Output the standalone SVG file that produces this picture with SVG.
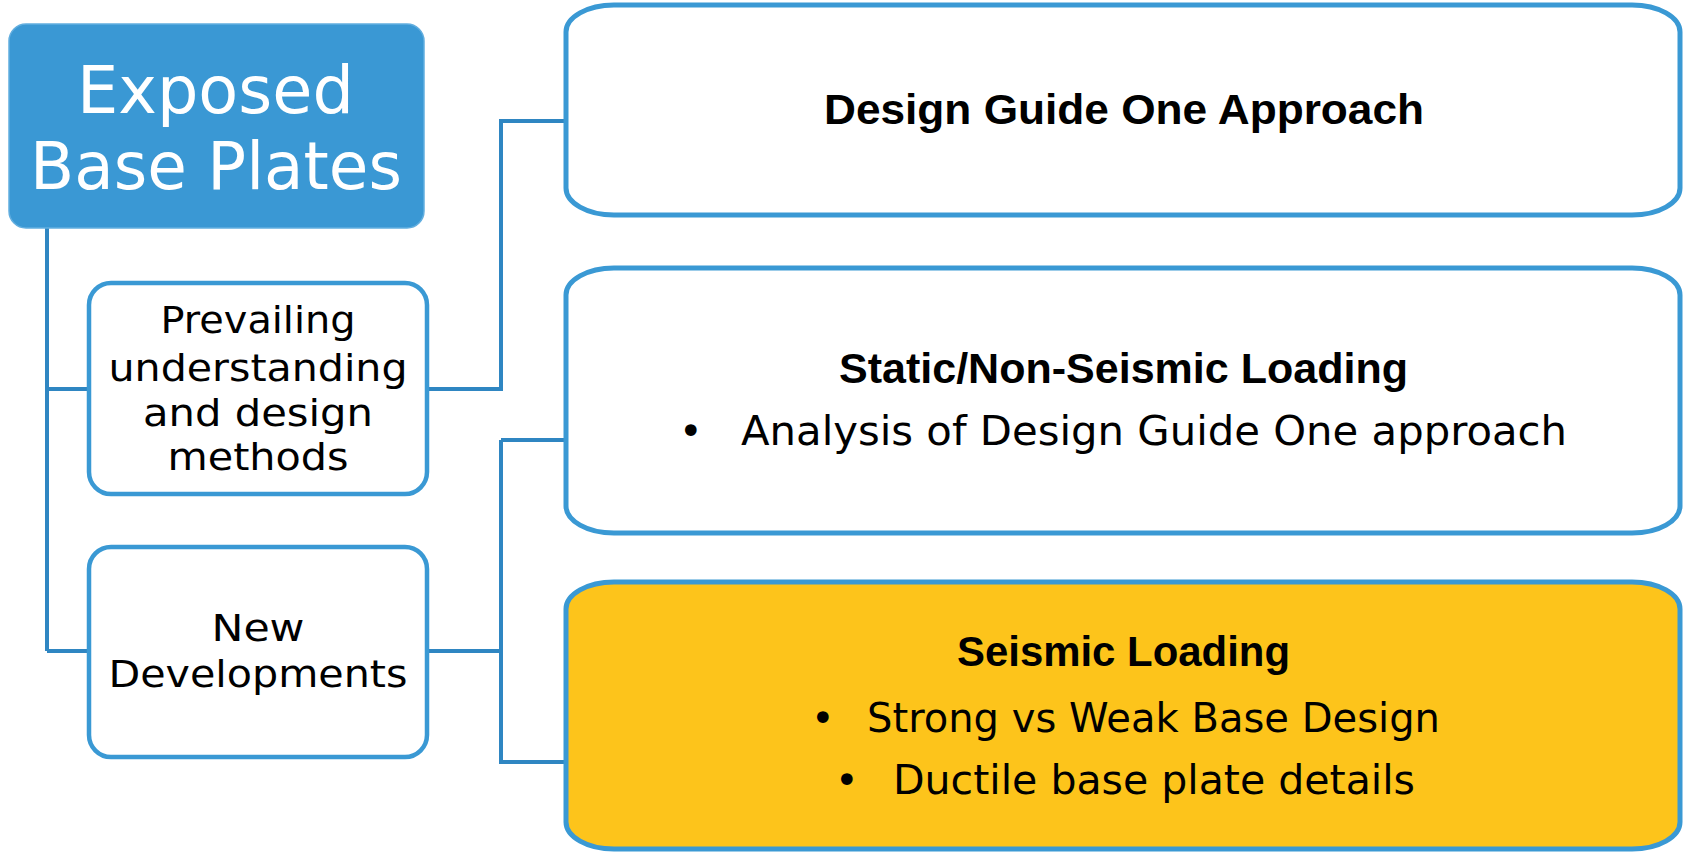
<svg xmlns="http://www.w3.org/2000/svg" width="1683" height="852" viewBox="0 0 1683 852">
<style>
.bg{fill:#ffffff}
.title{fill:#3A98D4;stroke:#62AEDF;stroke-width:1.5}
.box{fill:#ffffff;stroke:#3A99D4;stroke-width:4.5}
.big{fill:#ffffff;stroke:#3A99D4;stroke-width:5}
.yel{fill:#FDC41B;stroke:#3A99D4;stroke-width:5}
.conn{fill:none;stroke:#2F86C2;stroke-width:4}
text{font-family:"DejaVu Sans","Liberation Sans",sans-serif;fill:#000}
.tt{fill:#ffffff;font-size:66px;font-weight:normal}
.lt{font-size:38px;text-anchor:middle}
.hd{font-family:"Liberation Sans","DejaVu Sans",sans-serif;font-weight:bold;font-size:42px}
.rg{font-size:40px}
</style>
<rect class="bg" x="0" y="0" width="1683" height="852"/>
<g id="connectors">
<path class="conn" d="M47,228 V651 M47,389 H89 M47,651 H89"/>
<path class="conn" d="M427,389 H501 V121 H566"/>
<path class="conn" d="M427,651 H501 M501,440 V762 M501,440 H566 M499,762 H566"/>
</g>
<g id="exposed">
<rect class="title" x="9" y="24" width="415" height="204" rx="17"/>
<text class="tt" x="77" y="113" textLength="277" lengthAdjust="spacingAndGlyphs">Exposed</text>
<text class="tt" x="30" y="189" textLength="372" lengthAdjust="spacingAndGlyphs">Base Plates</text>
</g>
<g id="prevailing">
<rect class="box" x="89" y="283" width="338" height="211" rx="22"/>
<text class="lt" x="258" y="333" textLength="195" lengthAdjust="spacingAndGlyphs">Prevailing</text>
<text class="lt" x="258" y="381" textLength="299" lengthAdjust="spacingAndGlyphs">understanding</text>
<text class="lt" x="258" y="426" textLength="230" lengthAdjust="spacingAndGlyphs">and design</text>
<text class="lt" x="258" y="470" textLength="181" lengthAdjust="spacingAndGlyphs">methods</text>
</g>
<g id="newdev">
<rect class="box" x="89" y="547" width="338" height="210" rx="22"/>
<text class="lt" x="258" y="641" textLength="93" lengthAdjust="spacingAndGlyphs">New</text>
<text class="lt" x="258" y="687" textLength="299" lengthAdjust="spacingAndGlyphs">Developments</text>
</g>
<g id="designguide">
<path class="big" d="M614,5 H1632 A48,27 0 0 1 1680,32 V188 A48,27 0 0 1 1632,215 H614 A48,27 0 0 1 566,188 V32 A48,27 0 0 1 614,5 Z"/>
<text class="hd" x="824" y="124" textLength="600" lengthAdjust="spacingAndGlyphs">Design Guide One Approach</text>
</g>
<g id="static">
<path class="big" d="M614,268 H1632 A48,27 0 0 1 1680,295 V506 A48,27 0 0 1 1632,533 H614 A48,27 0 0 1 566,506 V295 A48,27 0 0 1 614,268 Z"/>
<text class="hd" x="839" y="383" textLength="569" lengthAdjust="spacingAndGlyphs">Static/Non-Seismic Loading</text>
<text class="rg" x="679" y="445">•</text>
<text class="rg" x="741" y="445" textLength="826" lengthAdjust="spacingAndGlyphs">Analysis of Design Guide One approach</text>
</g>
<g id="seismic">
<path class="yel" d="M614,582 H1632 A48,27 0 0 1 1680,609 V822 A48,27 0 0 1 1632,849 H614 A48,27 0 0 1 566,822 V609 A48,27 0 0 1 614,582 Z"/>
<text class="hd" x="957" y="666" textLength="333" lengthAdjust="spacingAndGlyphs">Seismic Loading</text>
<text class="rg" x="811" y="732">•</text>
<text class="rg" x="867" y="732" textLength="573" lengthAdjust="spacingAndGlyphs">Strong vs Weak Base Design</text>
<text class="rg" x="835" y="794">•</text>
<text class="rg" x="893" y="794" textLength="522" lengthAdjust="spacingAndGlyphs">Ductile base plate details</text>
</g>
</svg>
